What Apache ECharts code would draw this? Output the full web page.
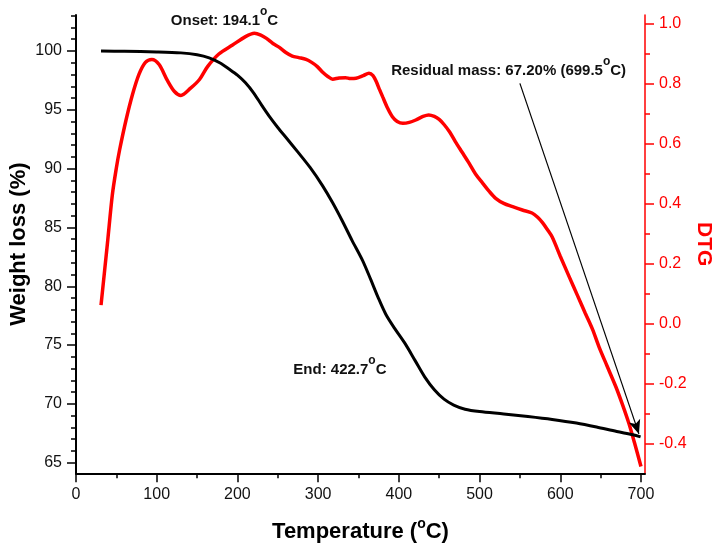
<!DOCTYPE html>
<html><head><meta charset="utf-8">
<script src="https://cdn.jsdelivr.net/npm/echarts@6/dist/echarts.min.js"></script>
<style>html,body{margin:0;padding:0;background:#fff}#c{width:724px;height:551px}</style>
</head><body><div id="c"></div>
<script>
// Temperature (°C), weight (%)
const tgaTemp = [31,60,100,130,150,165,178,190,200,210,220,230,240,250,262,275,290,305,318,330,342,355,365,374,384,395,408,420,432,444,456,468,482,500,530,560,590,620,645,670,690,699.5];
const tgaWeight = [100.0,99.97,99.92,99.84,99.68,99.42,99.0,98.45,97.95,97.3,96.45,95.4,94.4,93.5,92.5,91.4,90.1,88.6,87.1,85.55,83.9,82.2,80.6,79.1,77.6,76.4,75.1,73.7,72.3,71.2,70.4,69.9,69.55,69.35,69.15,68.93,68.68,68.37,68.03,67.65,67.38,67.2];
// Temperature (°C), DTG
const dtgTemp = [31,39,45,50,54,62,70,78,86,94,103,113,122,130,142,153,163,177,194,210,221,229,236,244,252,260,268,276,285,292,299,306,312,318,326,334,340,347,356,363,368,372,376,380,386,392,398,405,413,421,430,437,444,450,456,463,470,478,487,495,504,512,520,530,541,553,565,572,578,584,590,600,611,621,631,640,648,658,669,677,685,692,700];
const dtgValue = [0.063,0.27,0.43,0.52,0.58,0.68,0.765,0.832,0.872,0.882,0.865,0.813,0.775,0.762,0.786,0.815,0.858,0.9,0.93,0.958,0.969,0.963,0.952,0.935,0.922,0.905,0.893,0.888,0.882,0.872,0.858,0.838,0.825,0.816,0.82,0.821,0.818,0.819,0.828,0.836,0.828,0.808,0.782,0.757,0.72,0.691,0.675,0.669,0.672,0.68,0.692,0.697,0.692,0.682,0.665,0.64,0.608,0.574,0.536,0.5,0.469,0.442,0.419,0.402,0.391,0.38,0.37,0.356,0.338,0.315,0.29,0.226,0.158,0.097,0.036,-0.018,-0.076,-0.14,-0.21,-0.268,-0.331,-0.396,-0.475];

const xTicks = [0,100,200,300,400,500,600,700];
const xMinorTicks = [50,150,250,350,450,550,650];
const wTicks = [65,70,75,80,85,90,95,100];
const wMinorTicks = [66,67,68,69,71,72,73,74,76,77,78,79,81,82,83,84,86,87,88,89,91,92,93,94,96,97,98,99,101,102,103];
const dTicks = [-0.4,-0.2,0.0,0.2,0.4,0.6,0.8,1.0];
const dMinorTicks = [-0.3,-0.1,0.1,0.3,0.5,0.7,0.9];

const onsetText = ['Onset: 194.1', 'C'];
const endText = ['End: 422.7', 'C'];
const residualText = ['Residual mass: 67.20% (699.5', 'C)'];
const onsetPos = [184, 102.9];
const endPos = [327, 73.2];
const residualPos = [536, 98.65];
const arrowFrom = [550, 97.25];
const arrowTo = [697.5, 67.45];

const FF = 'Liberation Sans, Arial, sans-serif';
const annRich = {
  a: {fontSize: 15, fontWeight: 'bold', fontFamily: FF, color: '#111', lineHeight: 16, verticalAlign: 'bottom'},
  s: {fontSize: 12, fontWeight: 'bold', fontFamily: FF, color: '#111', padding: [0,0,11,0], verticalAlign: 'top'}
};
function ann(pos, t) {
  return {coord: pos, symbol: 'circle', symbolSize: 0, itemStyle: {color: 'rgba(0,0,0,0)'},
    label: {show: true, position: 'inside', formatter: '{a|' + t[0] + '}{s|o}{a|' + t[1] + '}', rich: annRich}};
}

const chart = echarts.init(document.getElementById('c'), null, {renderer: 'canvas'});
const tick = (vals, len, color) => ({show: true, customValues: vals, length: len, inside: false, lineStyle: {color: color, width: 1.5}});
chart.setOption({
  animation: false,
  backgroundColor: '#fff',
  grid: {left: 76, right: 79, top: 15, bottom: 77.7, containLabel: false, outerBoundsMode: 'none'},
  xAxis: [
    {type: 'value', min: 0, max: 705, position: 'bottom',
     axisLine: {show: true, onZero: false, lineStyle: {color: '#000', width: 2}},
     axisTick: tick(xTicks, 9, '#000'),
     axisLabel: {customValues: xTicks, fontSize: 16, fontFamily: FF, color: '#111', margin: 13},
     splitLine: {show: false},
     name: '{a|Temperature (}{s|o}{a|C)}', nameLocation: 'middle', nameGap: 44, nameMoveOverlap: false,
     nameTextStyle: {rich: {
       a: {fontSize: 22, fontWeight: 'bold', fontFamily: FF, color: '#000', lineHeight: 24, verticalAlign: 'bottom'},
       s: {fontSize: 14, fontWeight: 'bold', fontFamily: FF, color: '#000', padding: [0,0,12,0], verticalAlign: 'top'}
     }}},
    {type: 'value', min: 0, max: 705, position: 'bottom',
     axisLine: {show: false, onZero: false}, axisTick: tick(xMinorTicks, 5, '#000'),
     axisLabel: {show: false}, splitLine: {show: false}}
  ],
  yAxis: [
    {type: 'value', min: 64.1, max: 103.06, position: 'left',
     axisLine: {show: true, onZero: false, lineStyle: {color: '#000', width: 2}},
     axisTick: tick(wTicks, 9, '#000'),
     axisLabel: {customValues: wTicks, fontSize: 16, fontFamily: FF, color: '#111', margin: 14},
     splitLine: {show: false},
     name: 'Weight loss (%)', nameLocation: 'middle', nameGap: 46, nameRotate: 90, nameMoveOverlap: false,
     nameTextStyle: {fontSize: 22, fontWeight: 'bold', fontFamily: FF, color: '#000'}},
    {type: 'value', min: -0.4977, max: 1.03, position: 'right',
     axisLine: {show: true, onZero: false, lineStyle: {color: '#ff0000', width: 1.5}},
     axisTick: tick(dTicks, 9, '#ff0000'),
     axisLabel: {customValues: dTicks, fontSize: 16, fontFamily: FF, color: '#ff0000', margin: 14,
       formatter: v => v.toFixed(1)},
     splitLine: {show: false},
     name: 'DTG', nameLocation: 'middle', nameGap: 48, nameRotate: -90, nameMoveOverlap: false,
     nameTextStyle: {fontSize: 21, fontWeight: 'bold', fontFamily: FF, color: '#ff0000'}},
    {type: 'value', min: 64.1, max: 103.06, position: 'left',
     axisLine: {show: false, onZero: false}, axisTick: tick(wMinorTicks, 5, '#000'),
     axisLabel: {show: false}, splitLine: {show: false}},
    {type: 'value', min: -0.4977, max: 1.03, position: 'right',
     axisLine: {show: false, onZero: false}, axisTick: tick(dMinorTicks, 5, '#ff0000'),
     axisLabel: {show: false}, splitLine: {show: false}}
  ],
  series: [
    {name: 'DTG', type: 'line', xAxisIndex: 0, yAxisIndex: 1, showSymbol: false, smooth: 0.3,
     data: dtgTemp.map((t, i) => [t, dtgValue[i]]),
     lineStyle: {color: '#ff0000', width: 3.5}, z: 2},
    {name: 'TGA', type: 'line', xAxisIndex: 0, yAxisIndex: 0, showSymbol: false, smooth: 0.3,
     data: tgaTemp.map((t, i) => [t, tgaWeight[i]]),
     lineStyle: {color: '#000', width: 3}, z: 3,
     markLine: {silent: true, animation: false, symbol: ['none', 'arrow'], symbolSize: [9, 14],
       lineStyle: {color: '#000', width: 1.2, type: 'solid'}, label: {show: false},
       data: [[{coord: arrowFrom}, {coord: arrowTo}]]},
     markPoint: {silent: true, animation: false, data: [ann(onsetPos, onsetText), ann(endPos, endText), ann(residualPos, residualText)]}}
  ]
});
</script></body></html>
